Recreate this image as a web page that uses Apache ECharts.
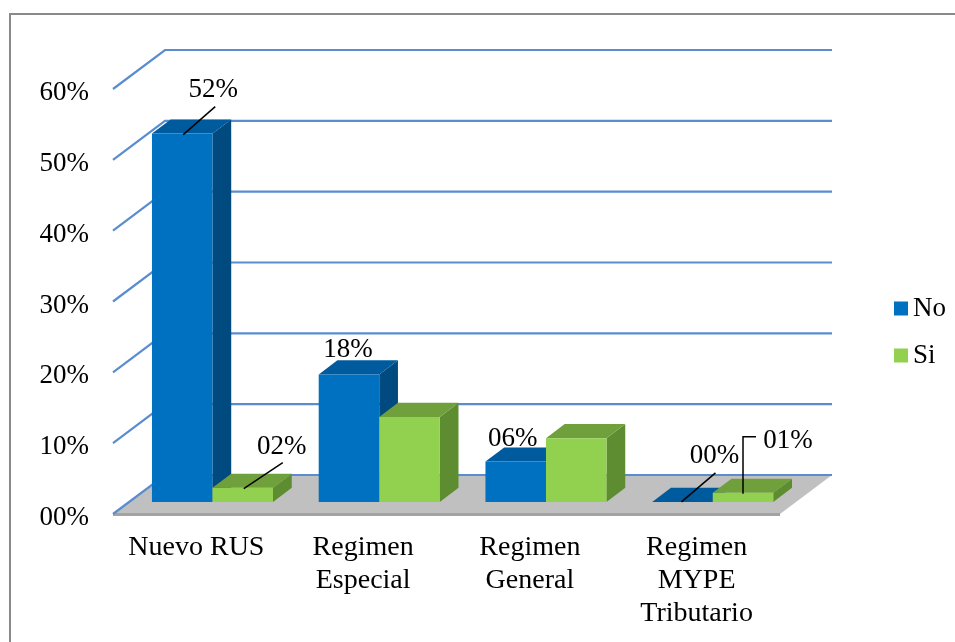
<!DOCTYPE html>
<html>
<head>
<meta charset="UTF-8">
<title>Regimen tributario</title>
<script src="https://cdn.jsdelivr.net/npm/echarts@6/dist/echarts.min.js"></script>
<style>
html, body { margin: 0; padding: 0; background: #fff; }
#main { width: 955px; height: 642px; }
</style>
</head>
<body>
<div id="main"></div>
<script type="text/javascript">
// datos del grafico
var categories = ['Nuevo RUS', 'Regimen\nEspecial', 'Regimen\nGeneral', 'Regimen\nMYPE\nTributario'];
var valuesNo = [0.52, 0.18, 0.057, 0.0];
var valuesSi = [0.02, 0.12, 0.09, 0.013];
var yTicks = [0, 0.1, 0.2, 0.3, 0.4, 0.5, 0.6];
var showNo = [true, true, true, true];
var showSi = [true, false, false, true];

// efecto 3D (pixeles)
var DX = 52, DY = -39;      // profundidad del piso
var F0 = 0.31, F1 = 0.67;   // cara frontal / trasera de las barras
var BAR = 0.363;            // ancho de barra / ancho de categoria
var FONT = '27px "Liberation Serif", "Times New Roman", serif';

var colorsNo = { front: '#0070c0', top: '#005a9e', side: '#004a80' };
var colorsSi = { front: '#92d050', top: '#70a03c', side: '#5e8c30' };

// posicion de etiquetas respecto al centro superior frontal de la barra
var layoutNo = [
    { x: 31, y: -44, leader: [[1, 1], [33, -27]] },
    { x: -1, y: -25 },
    { x: -3, y: -23 },
    { x: 32, y: -46, leader: [[-1, 0], [33, -29]] }
];
var layoutSi = [
    { x: 39, y: -41, leader: [[1, 1], [40, -25]] },
    null,
    null,
    { x: 45, y: -52, leader: [[0, 1], [0, -56], [13, -56]] }
];

function pct(v) {
    var s = String(Math.round(v * 100));
    if (s.length < 2) s = '0' + s;
    return s + '%';
}

function barGeom(params, api, side) {
    var i = api.value(0), v = api.value(1);
    var band = api.size([1, 0])[0];
    var w = band * BAR;
    var base = api.coord([i, 0]);
    var top = api.coord([i, v]);
    var ox = DX * F0, oy = DY * F0;
    var xL = base[0] + ox + (side === 0 ? -w : 0);
    return {
        xL: xL, xR: xL + w, w: w,
        y0: base[1] + oy, y1: top[1] + oy,
        dx: DX * (F1 - F0), dy: DY * (F1 - F0)
    };
}

function barRenderer(side, c) {
    return function (params, api) {
        var g = barGeom(params, api, side);
        var xL = g.xL, xR = g.xR, y0 = g.y0, y1 = g.y1, dx = g.dx, dy = g.dy;
        return {
            type: 'group',
            children: [
                { type: 'polygon', shape: { points: [[xR, y1], [xR + dx, y1 + dy], [xR + dx, y0 + dy], [xR, y0]] }, style: { fill: c.side } },
                { type: 'polygon', shape: { points: [[xL, y1], [xR, y1], [xR + dx, y1 + dy], [xL + dx, y1 + dy]] }, style: { fill: c.top } },
                { type: 'rect', shape: { x: xL, y: y1, width: g.w, height: Math.max(0, y0 - y1) }, style: { fill: c.front } }
            ]
        };
    };
}

function floorRenderer(params, api) {
    var cs = params.coordSys;
    var x0 = cs.x, x1 = cs.x + cs.width, yb = cs.y + cs.height;
    return {
        type: 'group',
        children: [
            { type: 'polygon', shape: { points: [[x0, yb], [x1, yb], [x1 + DX, yb + DY], [x0 + DX, yb + DY]] }, style: { fill: '#c0c0c0' } },
            { type: 'polygon', shape: { points: [[x0, yb - 1], [x1, yb - 1], [x1, yb + 2], [x0, yb + 2]] }, style: { fill: '#a3a3a3' } }
        ]
    };
}

function wallRenderer(params, api) {
    var cs = params.coordSys;
    var x0 = cs.x, x1 = cs.x + cs.width;
    var y = api.coord([0, api.value(1)])[1];
    return {
        type: 'polyline',
        shape: { points: [[x0, y], [x0 + DX, y + DY], [x1 + DX, y + DY]] },
        style: { stroke: '#5a8dcf', lineWidth: 2.2, fill: null }
    };
}

function labelRenderer(params, api) {
    var s = api.value(2);
    var i = api.value(0);
    var lay = (s === 0 ? layoutNo : layoutSi)[i];
    var show = (s === 0 ? showNo : showSi)[i];
    if (!lay || !show) return null;
    var g = barGeom(params, api, s);
    var xc = (g.xL + g.xR) / 2, yt = g.y1;
    var children = [{
        type: 'text',
        style: {
            text: pct(api.value(1)), x: xc + lay.x, y: yt + lay.y,
            align: 'center', verticalAlign: 'middle', font: FONT, fill: '#000'
        }
    }];
    if (lay.leader) {
        children.push({
            type: 'polyline',
            shape: { points: lay.leader.map(function (p) { return [xc + p[0], yt + p[1]]; }) },
            style: { stroke: '#000', lineWidth: 1.5, fill: null }
        });
    }
    return { type: 'group', children: children };
}

var labelData = [];
for (var k = 0; k < categories.length; k++) {
    labelData.push([k, valuesNo[k], 0]);
    labelData.push([k, valuesSi[k], 1]);
}

var myChart = echarts.init(document.getElementById('main'), null, { renderer: 'canvas' });
var option = {
    animation: false,
    backgroundColor: '#fff',
    graphic: [{
        type: 'rect',
        shape: { x: 10, y: 14, width: 1000, height: 700 },
        style: { fill: null, stroke: '#8a8a8a', lineWidth: 2 },
        silent: true
    }],
    grid: { left: 113, right: 175, top: 89, bottom: 128, containLabel: false },
    legend: {
        data: ['No', 'Si'],
        orient: 'vertical',
        left: 889, top: 290,
        icon: 'rect',
        itemWidth: 14, itemHeight: 14, itemGap: 20,
        textStyle: { fontFamily: '"Liberation Serif", serif', fontSize: 27, color: '#000' }
    },
    xAxis: {
        type: 'category',
        data: categories,
        axisLine: { show: false },
        axisTick: { show: false },
        splitLine: { show: false },
        axisLabel: {
            interval: 0, margin: 17,
            fontFamily: '"Liberation Serif", serif', fontSize: 28, lineHeight: 33, color: '#000'
        }
    },
    yAxis: {
        type: 'value',
        min: 0, max: 0.6, interval: 0.1,
        axisLine: { show: false },
        axisTick: { show: false },
        splitLine: { show: false },
        axisLabel: {
            margin: 24,
            formatter: function (v) { return '{t|' + pct(v) + '}'; },
            rich: {
                t: {
                    padding: [8, 0, 0, 0],
                    fontFamily: '"Liberation Serif", serif', fontSize: 27, color: '#000'
                }
            }
        }
    },
    series: [
        { type: 'custom', name: 'piso', renderItem: floorRenderer, data: [[0, 0]], z: 1, silent: true },
        { type: 'custom', name: 'lineas', renderItem: wallRenderer, data: yTicks.map(function (v) { return [0, v]; }), z: 2, silent: true },
        {
            type: 'custom', name: 'No', renderItem: barRenderer(0, colorsNo), z: 3,
            itemStyle: { color: colorsNo.front },
            data: valuesNo.map(function (v, i) { return [i, v]; })
        },
        {
            type: 'custom', name: 'Si', renderItem: barRenderer(1, colorsSi), z: 3,
            itemStyle: { color: colorsSi.front },
            data: valuesSi.map(function (v, i) { return [i, v]; })
        },
        { type: 'custom', name: 'etiquetas', renderItem: labelRenderer, data: labelData, z: 4, silent: true }
    ]
};
myChart.setOption(option);
</script>
</body>
</html>
